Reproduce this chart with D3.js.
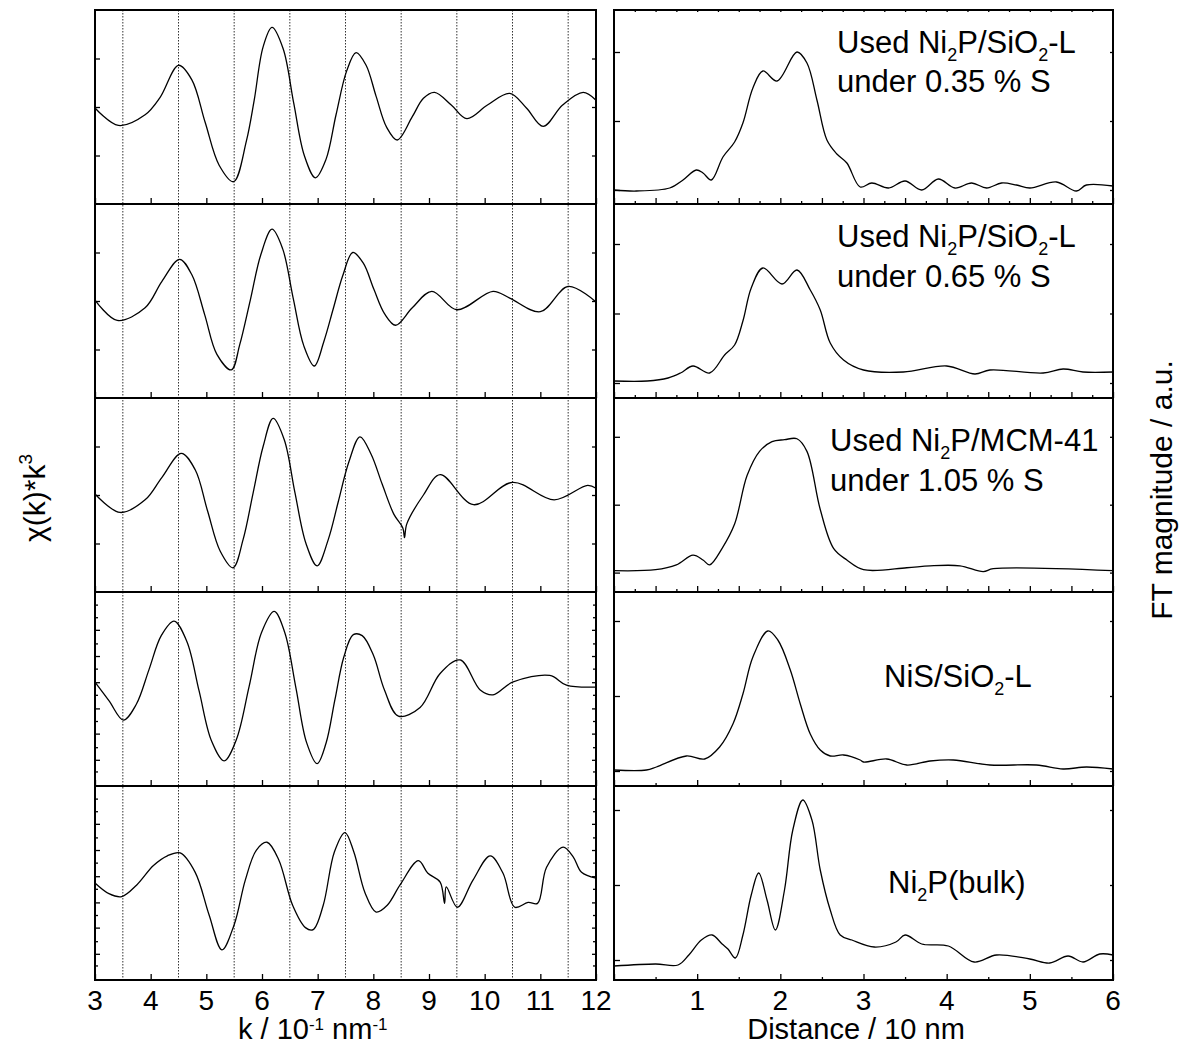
<!DOCTYPE html>
<html>
<head>
<meta charset="utf-8">
<script src="https://cdn.jsdelivr.net/npm/d3@7"></script>
<style>
body { margin: 0; background: #fff; }
</style>
</head>
<body>
<div id="chart"></div>
<script>
// ---- data, k in 10^-1 nm^-1, chi(k)*k^3 in a.u.
const chiUsed035 = [[3.0,-1],[3.42,-19],[3.9,-8],[4.17,10],[4.5,43],[4.74,28],[4.98,-16],[5.23,-60],[5.49,-77],[5.72,-35],[5.86,7],[6.02,62],[6.18,82],[6.38,60],[6.57,4],[6.76,-50],[6.96,-73],[7.15,-54],[7.33,-8],[7.52,37],[7.69,56],[7.87,43],[8.05,11],[8.24,-21],[8.43,-34],[8.7,-10],[8.9,9],[9.1,15],[9.4,2],[9.68,-12],[10.05,2],[10.45,14],[10.75,-1],[11.05,-20],[11.4,2],[11.77,15],[12.0,7]];
const chiUsed065 = [[3.0,1],[3.4,-20],[3.9,-7],[4.2,20],[4.52,43],[4.74,27],[4.97,-14],[5.19,-55],[5.45,-71],[5.6,-45],[5.79,1],[5.98,48],[6.18,74],[6.37,54],[6.56,3],[6.75,-46],[6.94,-67],[7.11,-42],[7.28,-8],[7.45,26],[7.63,50],[7.82,39],[8.01,12],[8.2,-13],[8.4,-25],[8.7,-7],[9.05,10],[9.5,-9],[10.15,10],[10.45,3],[11.0,-11],[11.5,15],[12.0,-1]];
const chiMCM105 = [[3.0,1],[3.45,-18],[3.9,-5],[4.2,18],[4.55,43],[4.8,26],[5.02,-16],[5.25,-58],[5.48,-75],[5.66,-46],[5.84,2],[6.02,50],[6.2,79],[6.4,57],[6.59,3],[6.79,-50],[6.99,-73],[7.19,-46],[7.37,-7],[7.56,34],[7.76,60],[7.96,42],[8.16,11],[8.37,-20],[8.53,-34],[8.56,-44],[8.6,-30],[8.9,0],[9.2,21],[9.8,-10],[10.5,13],[11.25,-5],[11.85,10],[12.0,7]];
const chiNiS = [[3.0,7],[3.25,-12],[3.51,-32],[3.74,-16],[3.97,20],[4.19,55],[4.42,70],[4.65,49],[4.87,-2],[5.09,-53],[5.32,-74],[5.54,-52],[5.77,3],[5.99,58],[6.22,80],[6.41,58],[6.61,1],[6.8,-55],[6.99,-77],[7.15,-56],[7.31,-11],[7.47,33],[7.64,56],[7.8,55],[8.0,35],[8.2,-1],[8.45,-28],[8.84,-19],[9.2,16],[9.56,30],[9.92,-1],[10.15,-6],[10.5,7],[11.17,14],[11.47,4],[12.0,2]];
const chiBulk = [[3.0,0],[3.25,-11],[3.48,-14],[3.75,-2],[4.05,18],[4.3,28],[4.53,31],[4.8,11],[5.05,-33],[5.28,-69],[5.5,-43],[5.7,3],[5.9,34],[6.09,42],[6.3,24],[6.55,-23],[6.78,-46],[6.92,-48],[7.1,-23],[7.3,32],[7.49,52],[7.65,32],[7.85,-10],[8.05,-30],[8.25,-23],[8.48,-2],[8.81,23],[8.98,10],[9.2,1],[9.28,-21],[9.31,-4],[9.51,-25],[9.79,3],[10.1,28],[10.33,10],[10.54,-25],[10.78,-20],[10.95,-21],[11.11,16],[11.41,37],[11.59,27],[11.74,11],[12.0,5]];

// distance in 10 nm (axis units), FT magnitude in a.u.
const ftUsed035 = [[0,0],[0.27,-1],[0.67,2],[0.83,10],[0.99,20],[1.07,17],[1.17,10],[1.31,33],[1.45,48],[1.55,67],[1.67,102],[1.79,119],[1.96,109],[2.2,138],[2.32,127],[2.44,90],[2.56,50],[2.68,36],[2.8,27],[2.96,3],[3.1,7],[3.3,2],[3.5,9],[3.7,0],[3.9,11],[4.1,2],[4.3,7],[4.48,2],[4.66,7],[4.84,5],[5.0,2],[5.32,8],[5.56,-1],[5.68,5],[6.0,4]];
const ftUsed065 = [[0,2],[0.4,2],[0.65,5],[0.8,10],[0.95,17],[1.15,10],[1.33,28],[1.45,38],[1.55,62],[1.65,95],[1.79,115],[2.02,99],[2.2,113],[2.36,93],[2.48,73],[2.6,40],[2.76,23],[3.0,13],[3.48,11],[4.0,17],[4.34,9],[4.52,13],[5.16,10],[5.4,14],[5.64,11],[6.0,11]];
const ftMCM105 = [[0,2],[0.5,3],[0.75,8],[0.95,18],[1.07,13],[1.15,8],[1.3,25],[1.45,50],[1.6,100],[1.75,125],[1.9,135],[2.05,137],[2.2,138],[2.32,125],[2.48,65],[2.64,25],[2.8,13],[3.0,3],[3.52,5],[3.8,7],[4.16,7],[4.44,1],[4.56,4],[6.0,2]];
const ftNiS = [[0,1],[0.39,1],[0.51,4],[0.87,15],[1.09,12],[1.27,24],[1.43,47],[1.55,77],[1.67,114],[1.85,140],[1.97,131],[2.12,101],[2.24,67],[2.36,37],[2.48,21],[2.6,15],[2.76,16],[2.96,11],[3.0,9],[3.28,12],[3.52,6],[3.8,10],[4.08,11],[4.52,6],[5.08,6],[5.4,2],[5.68,4],[6.0,2]];
const ftBulk = [[0,-6],[0.5,-4],[0.77,-5],[0.9,5],[1.05,20],[1.18,25],[1.3,16],[1.37,11],[1.46,2],[1.55,25],[1.65,65],[1.74,87],[1.84,60],[1.94,30],[2.05,70],[2.15,130],[2.27,160],[2.38,140],[2.48,90],[2.6,50],[2.72,25],[2.86,20],[3.13,13],[3.39,18],[3.5,25],[3.7,16],[4.02,14],[4.33,-2],[4.6,5],[5.0,1],[5.24,-3],[5.46,4],[5.64,-2],[5.84,6],[6.0,5]];

// y-domains and tick values per row (a.u.)
const ftDomains = [[-14,180],[-15,179],[-20,180],[-15,179],[-20,174]];
const ftYTicks = [[0,69,138],[0,69.5,139],[0,70,140],[0,75,150],[0,75,150]];
const chiYMajor = [[-50,0,50],[-50,0,50],[-50,0,50],[-73,-46,-20,7,34,61],[-73,-46,-20,7,34,61]];
const chiYMinor = [[],[],[],[-85,-60,-33,-6,21,47,74,87],[-85,-60,-33,-6,21,47,74,87]];

const kTicks = d3.range(3, 13, 1);
const kGrid = d3.range(3.5, 12, 1);
const rLabels = [1, 2, 3, 4, 5, 6];

const sampleLabels = [
  ["Used Ni_2P/SiO_2-L", "under 0.35 % S"],
  ["Used Ni_2P/SiO_2-L", "under 0.65 % S"],
  ["Used Ni_2P/MCM-41", "under 1.05 % S"],
  ["NiS/SiO_2-L"],
  ["Ni_2P(bulk)"]
];

const chiRows = [chiUsed035, chiUsed065, chiMCM105, chiNiS, chiBulk];
const ftRows = [ftUsed035, ftUsed065, ftMCM105, ftNiS, ftBulk];

// ---- layout
const W = 1181, H = 1046;
const rowTop = [10, 204, 398, 592, 786], rowH = 194;
const FONT = "'Liberation Sans', Arial, Helvetica, sans-serif";

const kScale = d3.scaleLinear().domain([3, 12]).range([95, 596]);
const rScale = d3.scaleLinear().domain([0, 6]).range([614, 1113]);

const svg = d3.select("#chart")
  .append("svg")
  .attr("width", W)
  .attr("height", H)
  .style("background-color", "#fff")
  .attr("font-family", FONT);

function tidy(sel) {
  sel.select(".domain").remove();
  sel.selectAll(".tick line").attr("stroke", "#000").attr("stroke-width", 1.3);
  sel.selectAll(".tick text").remove();
}

// text with _2 style subscripts
function richText(parent, str, x, y, size) {
  const t = parent.append("text").attr("x", x).attr("y", y)
    .attr("font-size", size).attr("fill", "#000");
  const parts = str.split(/_(\d)/);
  let sub = false;
  parts.forEach((p, i) => {
    if (i % 2 === 1) {
      t.append("tspan").attr("font-size", size * 0.58).attr("dy", 8).text(p);
      sub = true;
    } else if (p.length) {
      t.append("tspan").attr("dy", sub ? -8 : 0).text(p);
      sub = false;
    }
  });
  return t;
}

// dotted grid in the k panel
svg.append("g").selectAll("line")
  .data(kGrid)
  .enter()
  .append("line")
  .attr("x1", d => kScale(d))
  .attr("x2", d => kScale(d))
  .attr("y1", rowTop[0])
  .attr("y2", rowTop[4] + rowH)
  .attr("stroke", "#333")
  .attr("stroke-width", 1)
  .attr("stroke-dasharray", "1.5,1.5");

const lineOf = (x, y) => d3.line()
  .x(d => x(d[0]))
  .y(d => y(d[1]))
  .curve(d3.curveCatmullRom.alpha(0.5));

// ---- left column: chi(k)*k^3
chiRows.forEach((data, i) => {
  const top = rowTop[i];
  const y = d3.scaleLinear().domain([-100, 100]).range([top + rowH, top]);
  const g = svg.append("g");

  g.append("g").attr("transform", `translate(0,${top + rowH})`)
    .call(d3.axisBottom(kScale).tickValues(kTicks).tickSize(-6)).call(tidy);
  g.append("g").attr("transform", `translate(${kScale.range()[0]},0)`)
    .call(d3.axisLeft(y).tickValues(chiYMajor[i]).tickSize(-5)).call(tidy);
  g.append("g").attr("transform", `translate(${kScale.range()[1]},0)`)
    .call(d3.axisRight(y).tickValues(chiYMajor[i]).tickSize(-4)).call(tidy);
  if (chiYMinor[i].length) {
    g.append("g").attr("transform", `translate(${kScale.range()[0]},0)`)
      .call(d3.axisLeft(y).tickValues(chiYMinor[i]).tickSize(-3)).call(tidy);
    g.append("g").attr("transform", `translate(${kScale.range()[1]},0)`)
      .call(d3.axisRight(y).tickValues(chiYMinor[i]).tickSize(-3)).call(tidy);
  }

  g.append("path")
    .datum(data)
    .attr("fill", "none")
    .attr("stroke", "#000")
    .attr("stroke-width", 1.3)
    .attr("d", lineOf(kScale, y));

  g.append("rect")
    .attr("x", kScale.range()[0]).attr("y", top)
    .attr("width", kScale.range()[1] - kScale.range()[0]).attr("height", rowH)
    .attr("fill", "none").attr("stroke", "#000").attr("stroke-width", 2);
});

// ---- right column: FT magnitude
ftRows.forEach((data, i) => {
  const top = rowTop[i];
  const y = d3.scaleLinear().domain(ftDomains[i]).range([top + rowH, top]);
  const g = svg.append("g");
  const fine = i < 3;

  g.append("g").attr("transform", `translate(0,${top + rowH})`)
    .call(d3.axisBottom(rScale).tickValues(d3.range(0, 6.01, fine ? 0.5 : 1)).tickSize(-6)).call(tidy);
  g.append("g").attr("transform", `translate(0,${top + rowH})`)
    .call(d3.axisBottom(rScale).tickValues(d3.range(fine ? 0.25 : 0.5, 6, fine ? 0.5 : 1)).tickSize(-3)).call(tidy);
  if (i === 0) {
    g.append("g").attr("transform", `translate(0,${top})`)
      .call(d3.axisTop(rScale).tickValues(d3.range(0.25, 6, 0.25)).tickSize(-2)).call(tidy);
  }
  g.append("g").attr("transform", `translate(${rScale.range()[0]},0)`)
    .call(d3.axisLeft(y).tickValues(ftYTicks[i]).tickSize(-6)).call(tidy);
  g.append("g").attr("transform", `translate(${rScale.range()[1]},0)`)
    .call(d3.axisRight(y).tickValues(ftYTicks[i]).tickSize(-3)).call(tidy);

  g.append("path")
    .datum(data)
    .attr("fill", "none")
    .attr("stroke", "#000")
    .attr("stroke-width", 1.3)
    .attr("d", lineOf(rScale, y));

  g.append("rect")
    .attr("x", rScale.range()[0]).attr("y", top)
    .attr("width", rScale.range()[1] - rScale.range()[0]).attr("height", rowH)
    .attr("fill", "none").attr("stroke", "#000").attr("stroke-width", 2);
});

// ---- sample labels
const labelPos = [[837, [53, 92]], [837, [247, 287]], [830, [451, 491]], [884, [687]], [888, [893]]];
sampleLabels.forEach((lines, i) => {
  lines.forEach((s, j) => richText(svg, s, labelPos[i][0], labelPos[i][1][j], 31));
});

// ---- tick labels
svg.append("g").selectAll("text")
  .data(kTicks)
  .enter()
  .append("text")
  .attr("x", d => kScale(d))
  .attr("y", 1010)
  .attr("text-anchor", "middle")
  .attr("font-size", 28)
  .text(d => d);

svg.append("g").selectAll("text")
  .data(rLabels)
  .enter()
  .append("text")
  .attr("x", d => rScale(d))
  .attr("y", 1010)
  .attr("text-anchor", "middle")
  .attr("font-size", 28)
  .text(d => d);

// ---- axis titles
const kt = svg.append("text").attr("x", 238).attr("y", 1039).attr("font-size", 29);
kt.append("tspan").text("k / 10");
kt.append("tspan").attr("font-size", 17).attr("dy", -9).text("-1");
kt.append("tspan").attr("dy", 9).text(" nm");
kt.append("tspan").attr("font-size", 17).attr("dy", -9).text("-1");

svg.append("text")
  .attr("x", 856).attr("y", 1039)
  .attr("text-anchor", "middle")
  .attr("font-size", 29)
  .text("Distance / 10 nm");

const yt = svg.append("text")
  .attr("transform", "translate(45,498) rotate(-90)")
  .attr("text-anchor", "middle")
  .attr("font-size", 30);
yt.append("tspan").text("\u03c7(k)*k");
yt.append("tspan").attr("font-size", 19).attr("dy", -13).text("3");

svg.append("text")
  .attr("transform", "translate(1172,490) rotate(-90)")
  .attr("text-anchor", "middle")
  .attr("font-size", 30)
  .text("FT magnitude / a.u.");
</script>
</body>
</html>
